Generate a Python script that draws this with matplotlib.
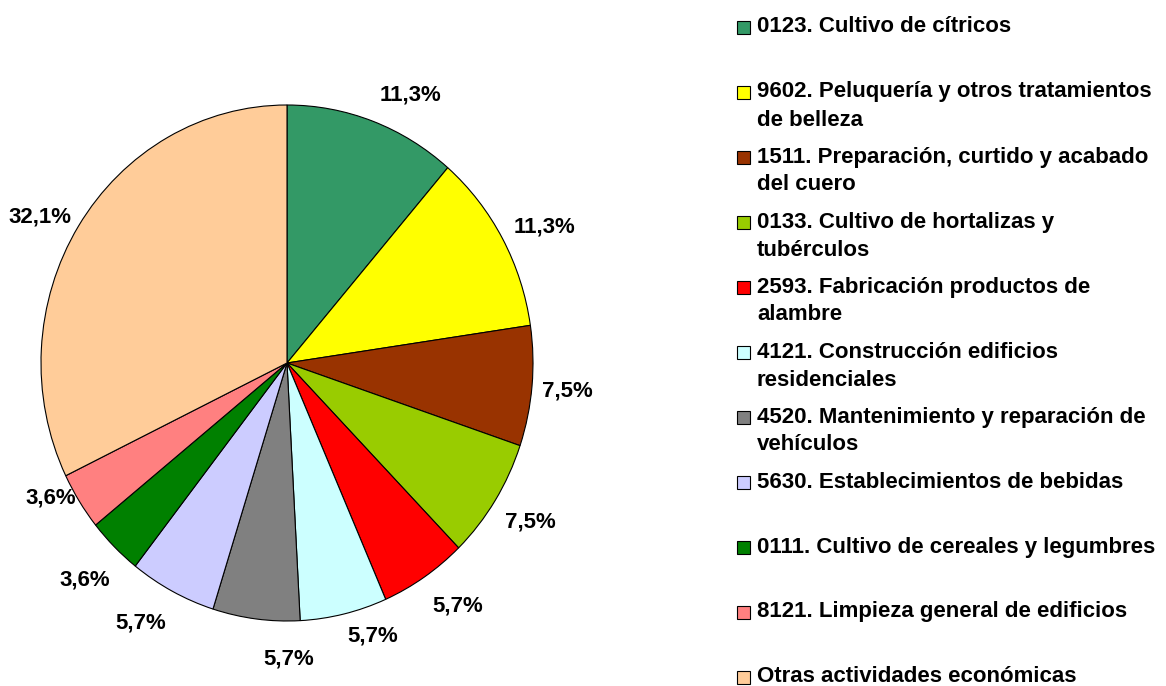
import numpy as np
import matplotlib
matplotlib.use("Agg")
import matplotlib.pyplot as plt
from matplotlib.patches import Rectangle

plt.rcParams['font.family'] = ['Liberation Sans', 'DejaVu Sans']

# data
actividades = [
    "0123. Cultivo de cítricos",
    "9602. Peluquería y otros tratamientos\nde belleza",
    "1511. Preparación, curtido y acabado\ndel cuero",
    "0133. Cultivo de hortalizas y\ntubérculos",
    "2593. Fabricación productos de\nalambre",
    "4121. Construcción edificios\nresidenciales",
    "4520. Mantenimiento y reparación de\nvehículos",
    "5630. Establecimientos de bebidas",
    "0111. Cultivo de cereales y legumbres",
    "8121. Limpieza general de edificios",
    "Otras actividades económicas",
]
porcentajes = [11.3, 11.3, 7.5, 7.5, 5.7, 5.7, 5.7, 5.7, 3.6, 3.6, 32.1]
colores = ["#339966", "#FFFF00", "#993300", "#99CC00", "#FF0000", "#CCFFFF",
           "#808080", "#CCCCFF", "#008000", "#FF8080", "#FFCC99"]

# small nudges (pixels) so the labels sit where the original put them
nudges = [(24, -13), (7, -8), (-4, -1), (2, 1), (11, 5), (20, 18),
          (38, 1), (-13, 5), (-2, -4), (5, 25), (-5, -13)]

W, H = 1166, 686
fig = plt.figure(figsize=(W/100, H/100), dpi=100)

# pie, slightly taller than wide like the original
cx, cy, rx, ry = 287, 363, 246, 258
ax = fig.add_axes([(cx-rx)/W, (H-cy-ry)/H, 2*rx/W, 2*ry/H])
wedges, _ = ax.pie(porcentajes, colors=colores, startangle=90, counterclock=False,
                   wedgeprops=dict(edgecolor="black", linewidth=0.8))
ax.set_aspect('auto')
ax.set_xlim(-1, 1)
ax.set_ylim(-1, 1)
ax.axis('off')

for w, v, nd in zip(wedges, porcentajes, nudges):
    ang = np.deg2rad((w.theta1 + w.theta2) / 2)
    ax.annotate(f"{v:.1f}%".replace('.', ','), (1.16*np.cos(ang), 1.16*np.sin(ang)),
                xytext=nd, textcoords='offset pixels', annotation_clip=False,
                ha='center', va='center', fontsize=16, fontweight='bold')

# legend drawn by hand
y0, paso, lin = 27, 65.0, 28
for i, (lab, c) in enumerate(zip(actividades, colores)):
    y = y0 + i*paso
    fig.patches.append(Rectangle((737/W, (H-y-6.5)/H), 13/W, 13/H, transform=fig.transFigure,
                                 facecolor=c, edgecolor='black', linewidth=0.8))
    for j, linea in enumerate(lab.split("\n")):
        fig.text(757/W, (H-y-j*lin)/H, linea, ha='left', va='center',
                 fontsize=16, fontweight='bold')

fig.savefig("out.png", dpi=100)
